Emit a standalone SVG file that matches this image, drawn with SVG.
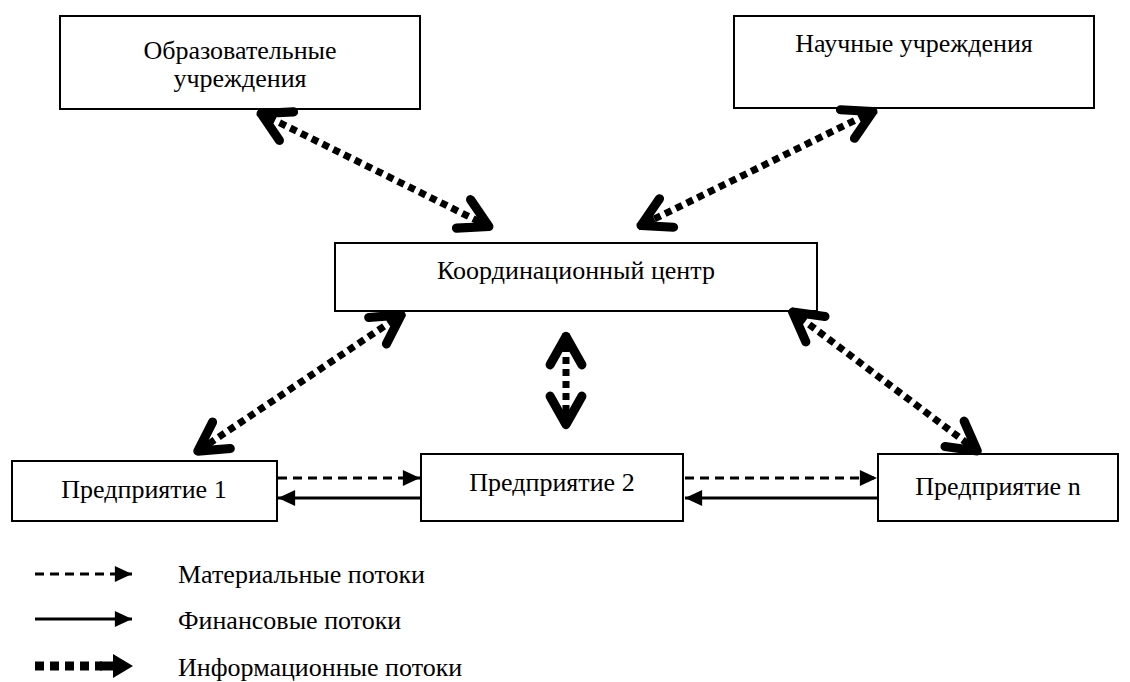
<svg xmlns="http://www.w3.org/2000/svg" width="1130" height="682" viewBox="0 0 1130 682">
<style>
.box{fill:#fff;stroke:#000;stroke-width:2}
.t{font-family:"Liberation Serif","Times New Roman",serif;font-size:26px;fill:#000}
.c{text-anchor:middle}
.dash{stroke:#000;stroke-width:3;stroke-dasharray:9 6;fill:none}
.solid{stroke:#000;stroke-width:3;fill:none}
.info{stroke:#000;stroke-width:7;stroke-dasharray:7 5;fill:none}
</style>
<defs>
<marker id="tri" markerUnits="userSpaceOnUse" markerWidth="20" markerHeight="16" viewBox="-15 -7 16 14" refX="0" refY="0" orient="auto-start-reverse">
<path d="M-15,-7 L0,0 L-15,7 Z" fill="#000"/>
</marker>
<marker id="chev" markerUnits="userSpaceOnUse" markerWidth="50" markerHeight="50" viewBox="-36 -22 42 44" refX="0" refY="0" orient="auto-start-reverse">
<path d="M-28,-14 L-3,0 L-28,14" fill="none" stroke="#000" stroke-width="8" stroke-linecap="round" stroke-linejoin="round" stroke-dasharray="none"/>
<path d="M-16,-7 L-3,0 L-16,7 Z" fill="#000"/>
</marker>
</defs>
<g id="n-obr"><rect class="box" x="60" y="16" width="360" height="93"/>
<text class="t c" x="240" y="59">Образовательные</text><text class="t c" x="240" y="87">учреждения</text></g>
<g id="n-nauch"><rect class="box" x="734" y="16" width="360" height="92"/>
<text class="t c" x="914" y="52">Научные учреждения</text></g>
<g id="n-coord"><rect class="box" x="335" y="243" width="482" height="68"/>
<text class="t c" x="576" y="279">Координационный центр</text></g>
<g id="n-p1"><rect class="box" x="12" y="461" width="265" height="60"/>
<text class="t c" x="144" y="498">Предприятие 1</text></g>
<g id="n-p2"><rect class="box" x="421" y="454" width="262" height="67"/>
<text class="t c" x="552" y="491">Предприятие 2</text></g>
<g id="n-pn"><rect class="box" x="878" y="454" width="240" height="67"/>
<text class="t c" x="998" y="495">Предприятие n</text></g>
<g id="connectors">
<line class="dash" x1="278" y1="478" x2="420" y2="478" marker-end="url(#tri)"/>
<line class="solid" x1="421" y1="498" x2="278" y2="498" marker-end="url(#tri)"/>
<line class="dash" x1="685" y1="478" x2="877" y2="478" marker-end="url(#tri)"/>
<line class="solid" x1="878" y1="498" x2="685" y2="498" marker-end="url(#tri)"/>
<line class="info" x1="258" y1="112" x2="492" y2="228" marker-start="url(#chev)" marker-end="url(#chev)"/>
<line class="info" x1="876" y1="110" x2="638" y2="227" marker-start="url(#chev)" marker-end="url(#chev)"/>
<line class="info" x1="404" y1="313" x2="195" y2="453" marker-start="url(#chev)" marker-end="url(#chev)"/>
<line class="info" x1="566" y1="333" x2="566" y2="428" marker-start="url(#chev)" marker-end="url(#chev)"/>
<line class="info" x1="790" y1="310" x2="980" y2="453" marker-start="url(#chev)" marker-end="url(#chev)"/>
</g>
<g id="legend">
<line class="dash" x1="35" y1="574" x2="132" y2="574" marker-end="url(#tri)"/>
<text class="t" x="178" y="583">Материальные потоки</text>
<line class="solid" x1="35" y1="619" x2="132" y2="619" marker-end="url(#tri)"/>
<text class="t" x="178" y="629">Финансовые потоки</text>
<line x1="35" y1="666" x2="102" y2="666" stroke="#000" stroke-width="9" stroke-dasharray="9 6"/>
<path d="M100,661.5 L113,661.5 L113,654 L133,666 L113,678 L113,670.5 L100,670.5 Z" fill="#000"/>
<text class="t" x="178" y="676">Информационные потоки</text>
</g>
</svg>
